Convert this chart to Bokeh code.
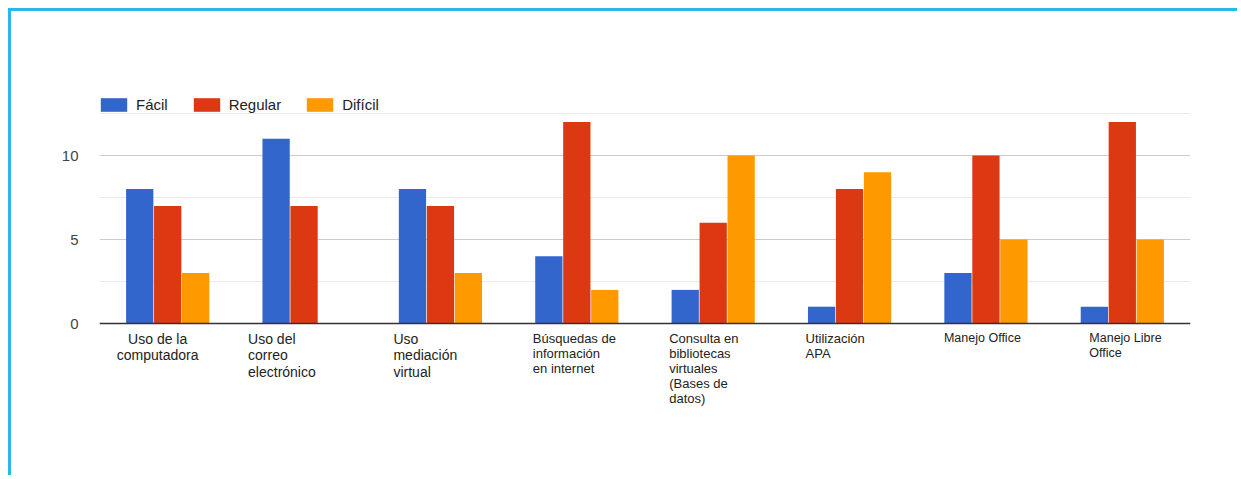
from bokeh.plotting import figure
from bokeh.models import (Range1d, FixedTicker, Span, Legend, LegendItem,
                          ColumnDataSource)
from bokeh.core.properties import value
from bokeh.embed import file_html
from bokeh.resources import INLINE

# --- data -------------------------------------------------------------
categories = [
    "Uso de la\ncomputadora",
    "Uso del\ncorreo\nelectrónico",
    "Uso\nmediación\nvirtual",
    "Búsquedas de\ninformación\nen internet",
    "Consulta en\nbibliotecas\nvirtuales\n(Bases de\ndatos)",
    "Utilización\nAPA",
    "Manejo Office",
    "Manejo Libre\nOffice",
]
facil = [8, 11, 8, 4, 2, 1, 3, 1]
regular = [7, 7, 7, 12, 6, 8, 10, 12]
dificil = [3, 0, 3, 2, 10, 9, 5, 5]
series_names = ["Fácil", "Regular", "Difícil"]
series_colors = ["#3366cc", "#dc3912", "#ff9900"]
y_ticks = [0, 5, 10]
y_minor = [2.5, 7.5, 12.5]

FONT = "Liberation Sans"
n = len(categories)
centers = [i + 0.5 for i in range(n)]

# value axis: 16.8 px per unit; the frame also holds the legend row above
# the chart and the wrapped category labels below the baseline
PX = 16.8
y_top = 12.5 + 24 / PX
y_bottom = y_top - 389 / PX

p = figure(width=1229, height=467, output_backend="svg", toolbar_location=None,
           x_range=Range1d(0, n), y_range=Range1d(y_bottom, y_top),
           min_border_left=88, min_border_right=50,
           min_border_top=78, min_border_bottom=0)
p.styles = {"margin-left": "8px", "margin-top": "8px",
            "border-left": "3px solid #29b9e6",
            "border-top": "3px solid #29b9e6"}
p.outline_line_color = None
p.background_fill_color = "white"
p.border_fill_color = "white"

# grid
p.xgrid.visible = False
p.xaxis.visible = False
p.yaxis.ticker = FixedTicker(ticks=y_ticks, minor_ticks=y_minor)
p.ygrid.grid_line_color = "#cccccc"
p.ygrid.minor_grid_line_color = "#ebebeb"
p.yaxis.axis_line_color = None
p.yaxis.major_tick_line_color = None
p.yaxis.minor_tick_line_color = None
p.yaxis.major_label_text_font = FONT
p.yaxis.major_label_text_font_size = "15px"
p.yaxis.major_label_text_color = "#444444"
p.yaxis.major_label_standoff = 15

# bars
offsets = [-0.205, 0.0, 0.205]
renderers = []
for vals, off, col in zip([facil, regular, dificil], offsets, series_colors):
    src = ColumnDataSource(dict(x=[c + off for c in centers], top=vals))
    r = p.vbar(x="x", top="top", bottom=0, width=0.2, source=src,
               fill_color=col, line_color=None)
    renderers.append(r)

p.add_layout(Span(location=0, dimension="width", line_color="#333333",
                  line_width=1.5))

# category labels below the baseline
label_font = [14, 14, 14, 13, 13, 13, 12.5, 12.5]
label_lh = [1.06, 1.06, 1.06, 1.0, 1.0, 1.0, 1.08, 1.08]
label_dx = [-10, -56, -47, -44, -44, -44, -42, -33]
label_align = ["center"] + ["left"] * (n - 1)
for i in range(n):
    p.text(x=[centers[i]], y=[0], text=[categories[i]],
           x_offset=label_dx[i], y_offset=7,
           text_align=label_align[i], text_baseline="top",
           text_font=value(FONT), text_font_size=f"{label_font[i]}px",
           text_color="#222222", text_line_height=label_lh[i])

# legend row
legend = Legend(items=[LegendItem(label=nm, renderers=[r])
                       for nm, r in zip(series_names, renderers)],
                orientation="horizontal", location=(-2, 365),
                glyph_width=33, glyph_height=17, label_standoff=6,
                spacing=22, padding=0, margin=0,
                label_text_font=FONT, label_text_font_size="15px",
                label_text_color="#222222", border_line_color=None,
                background_fill_alpha=0)
p.add_layout(legend)

open("out.html", "w").write(file_html(p, INLINE))
